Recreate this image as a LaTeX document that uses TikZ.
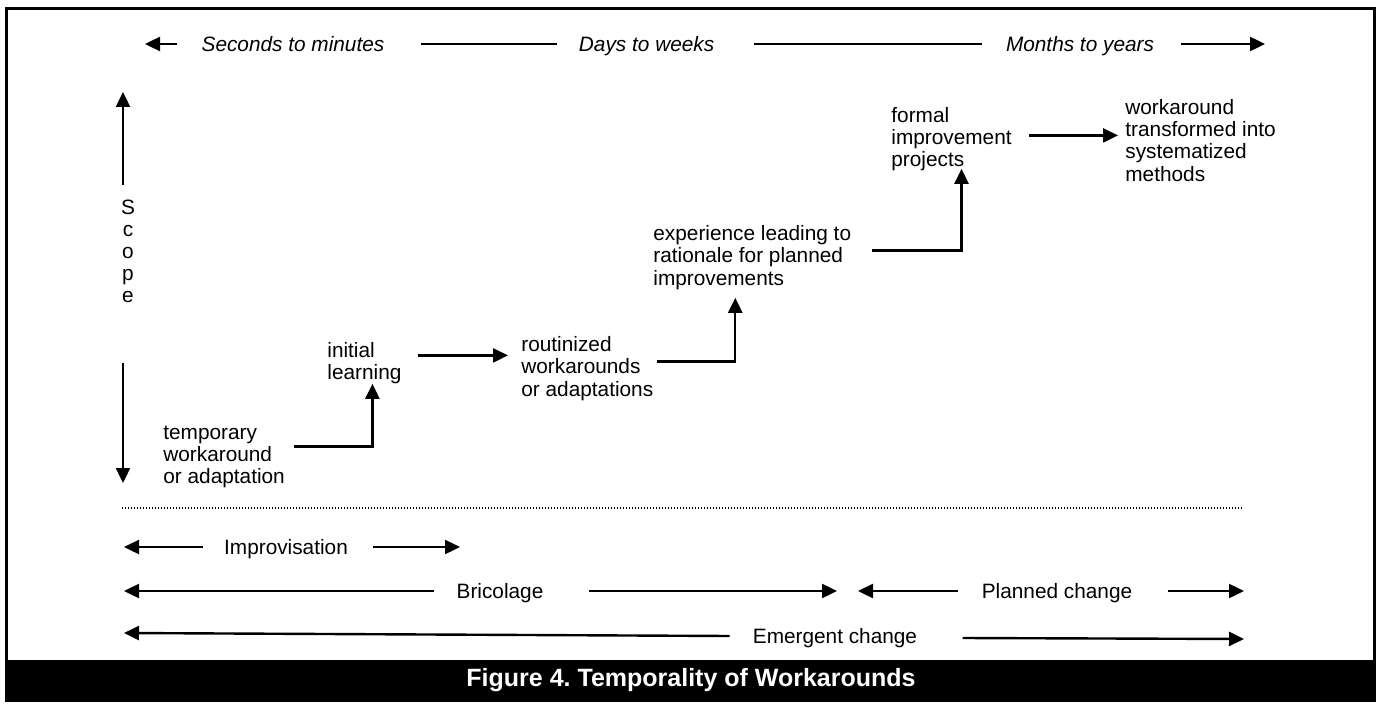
\documentclass[tikz,border=0pt]{standalone}
\usepackage{fontspec}
\setmainfont{Liberation Sans}
\usetikzlibrary{arrows.meta}
\frenchspacing
\begin{document}
\begin{tikzpicture}[x=0.5pt,y=-0.5pt,
  arr/.style={-{Triangle[length=7.5pt,width=7pt]},line width=1.2pt},
  ln/.style={line width=1.2pt},
  txt/.style={inner sep=0pt,align=left,anchor=north west,font=\fontsize{10.4}{11.2}\selectfont},
  lab/.style={inner sep=0pt,text height=7.5pt,text depth=0pt,font=\fontsize{10.4}{11}\selectfont},
  tlab/.style={lab,font=\fontsize{10.4}{11}\selectfont\itshape},
  frame/.style={line width=1.5pt},
]
\useasboundingbox (0,0) rectangle (1382,706);
% frame and caption band
\draw[frame] (6,9) rectangle (1374,700);
\fill[black] (6,660) rectangle (1374,700);
\node[inner sep=0pt,text=white,font=\fontsize{12.5}{14}\selectfont\bfseries] (cap) at (691,680) {Figure 4.\ Temporality of Workarounds};

% top time scale
\coordinate (tl) at (145,44);
\coordinate (tr) at (1265,44);
\node[tlab] (sec) at (293,44) {Seconds to minutes};
\node[tlab] (days) at (646.6,44) {Days to weeks};
\node[tlab] (months) at (1080,44) {Months to years};
\draw[arr] ([xshift=-12pt]sec.west) -- (tl);
\draw[ln] ([xshift=18pt]sec.east) -- ([xshift=-11pt]days.west);
\draw[ln] ([xshift=19.5pt]days.east) -- ([xshift=-12pt]months.west);
\draw[arr] ([xshift=13.5pt]months.east) -- (tr);

% scope axis
\coordinate (stop) at (123,92);
\coordinate (sbot) at (123,483);
\node[inner sep=0pt,align=center,anchor=north,font=\fontsize{10.4}{11}\selectfont] (scope) at (128,198.6) {\strut S\\\strut c\\\strut o\\\strut p\\\strut e};
\draw[arr] ([xshift=-2.5pt,yshift=6.8pt]scope.north) -- (stop);
\draw[arr] ([xshift=-2.5pt,yshift=-26.7pt]scope.south) -- (sbot);

% stages
\node[txt] (temp) at (163,423) {\strut temporary\\\strut workaround\\\strut or adaptation};
\node[txt] (init) at (327,341) {\strut initial\\\strut learning};
\node[txt] (rout) at (521,335.5) {\strut routinized\\\strut workarounds\\\strut or adaptations};
\node[txt] (exp) at (653,224.5) {\strut experience leading to\\\strut rationale for planned\\\strut improvements};
\node[txt] (formal) at (891,106) {\strut formal\\\strut improvement\\\strut projects};
\node[txt] (work) at (1125,98) {\strut workaround\\\strut transformed into\\\strut systematized\\\strut methods};

\draw[arr] ([xshift=4.5pt,yshift=5.3pt]temp.east) -| ([xshift=4pt,yshift=1.4pt]init.south);
\draw[arr] ([xshift=8pt,yshift=4.2pt]init.east) -- ([xshift=-6.5pt,yshift=7.05pt]rout.west);
\draw[arr] ([xshift=1.5pt,yshift=4.05pt]rout.east) -| ([xshift=-8.5pt,yshift=-2.65pt]exp.south);
\draw[arr] ([xshift=10pt,yshift=4.05pt]exp.east) -| ([xshift=5pt,yshift=2.6pt]formal.south);
\draw[arr] ([xshift=8.5pt,yshift=2.3pt]formal.east) -- ([xshift=-3.5pt,yshift=3.9pt]work.west);

% dotted separator
\coordinate (dl) at (122,508);
\coordinate (dr) at (1243,508);
\draw[line width=0.6pt,dash pattern=on 0.6pt off 0.9pt] (dl) -- (dr);

% bottom ranges
\coordinate (il) at (124,547);
\coordinate (ir) at (460,547);
\node[lab] (impro) at (286,547) {Improvisation};
\draw[arr] ([xshift=-10.5pt]impro.west) -- (il);
\draw[arr] ([xshift=12.5pt]impro.east) -- (ir);

\coordinate (bl) at (124,591);
\coordinate (br) at (837,591);
\node[lab] (bric) at (500,591) {Bricolage};
\draw[arr] ([xshift=-11pt]bric.west) -- (bl);
\draw[arr] ([xshift=22.5pt]bric.east) -- (br);

\coordinate (pl) at (858,591);
\coordinate (pr) at (1244,591);
\node[lab] (plan) at (1057,591) {Planned change};
\draw[arr] ([xshift=-11.5pt]plan.west) -- (pl);
\draw[arr] ([xshift=17.5pt]plan.east) -- (pr);

\coordinate (el) at (124,633);
\coordinate (er) at (1244,639);
\node[lab] (emer) at (835,636) {Emergent change};
\draw[arr] ([xshift=-11.5pt]emer.west) -- (el);
\draw[arr] ([xshift=22.5pt,yshift=-1pt]emer.east) -- (er);
\end{tikzpicture}
\end{document}
